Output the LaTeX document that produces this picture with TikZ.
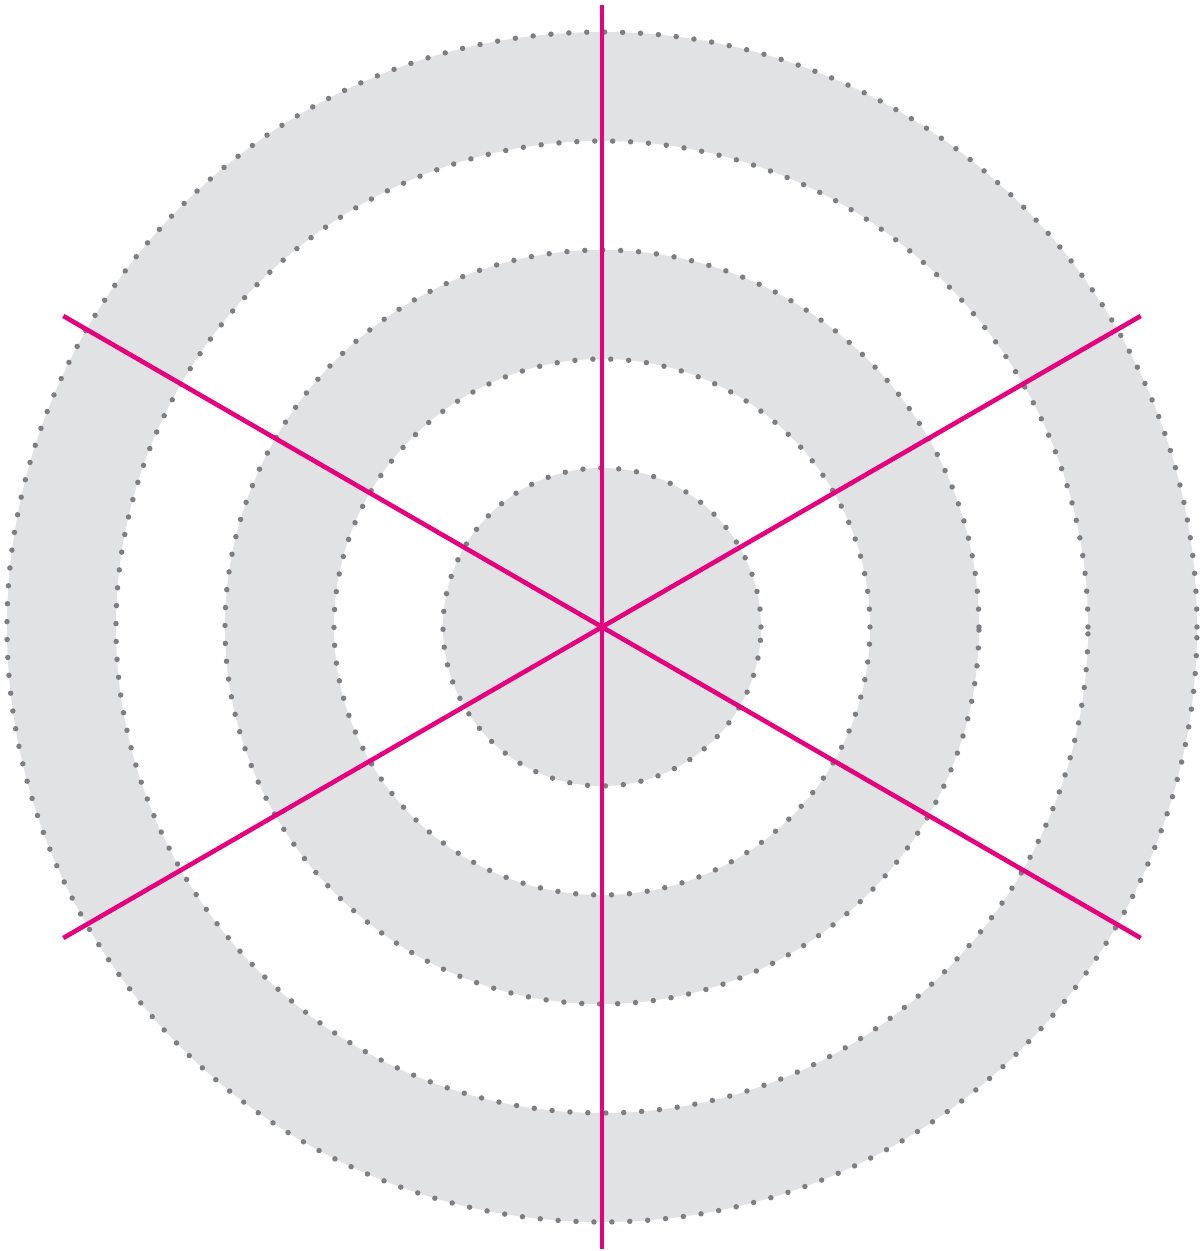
\documentclass[tikz,border=0pt]{standalone}
\usepackage{tikz}
\definecolor{ringGray}{HTML}{E1E2E4}
\definecolor{dotGray}{HTML}{7E7E82}
\definecolor{spokePink}{HTML}{E6007E}

\begin{document}
\begin{tikzpicture}[
    ringline/.style={dotGray, line width=3.1pt, line cap=round,
                     dash pattern=on 0pt off 10.2pt},
    spoke/.style={spokePink, line width=2.6pt}]
  \useasboundingbox[fill=white] (-12.04,-12.48) rectangle (12.0,12.54);
  \coordinate (o) at (0,0);
  % bands, outside in
  \foreach \r/\c in {11.9/ringGray, 9.72/white, 7.54/ringGray, 5.36/white, 3.18/ringGray}
    \fill[\c] (o) circle (\r);
  % dotted rims
  \foreach \r in {11.9, 9.72, 7.54, 5.36, 3.18}
    \draw[ringline] (o) circle (\r);
  % spokes
  \foreach \a in {90, 30, 150} {
    \coordinate (p\a) at (\a:12.44);
    \coordinate (q\a) at (\a+180:12.44);
    \draw[spoke] (p\a) -- (q\a);
  }
\end{tikzpicture}
\end{document}
